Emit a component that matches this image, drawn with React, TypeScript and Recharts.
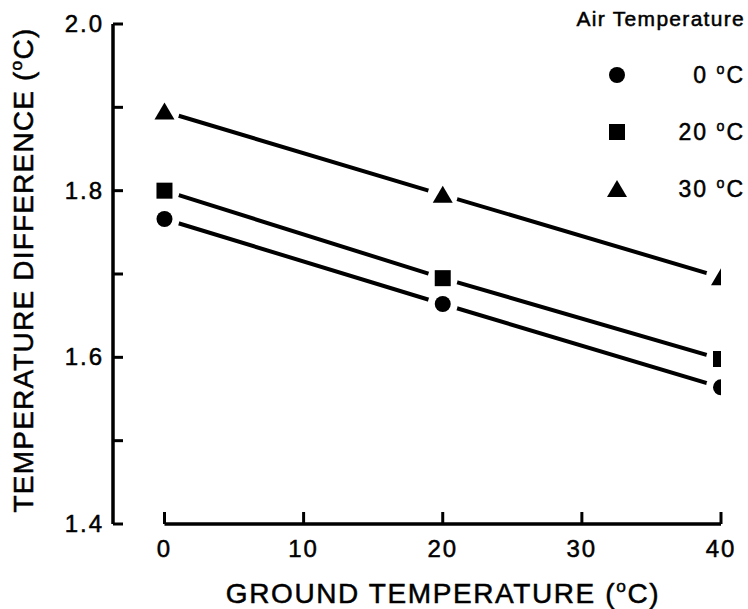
import React from "react";
import { LineChart, Line, XAxis, YAxis, ReferenceLine } from "recharts";

// ground temperature (°C) and the measured temperature difference for each air temperature
const groundTemps = [0, 20, 40];
const diffAir0 = [1.766, 1.664, 1.564];
const diffAir20 = [1.8, 1.695, 1.598];
const diffAir30 = [1.895, 1.795, 1.696];

const xTicks = [0, 10, 20, 30, 40];
const yTicks = [1.4, 1.5, 1.6, 1.7, 1.8, 1.9, 2.0];
const yLabelled = [1.4, 1.6, 1.8, 2.0];
const airLabels = ["0", "20", "30"];
const airKeys = ["air0", "air20", "air30"];
const markerKinds = ["circle", "square", "triangle"];

const rows = groundTemps.map((g, i) => ({
  ground: g,
  air0: diffAir0[i],
  air20: diffAir20[i],
  air30: diffAir30[i],
}));

const FONT = "'Liberation Sans', Arial, Helvetica, sans-serif";
const INK = "#000";
// a hairline outline gives the type a slightly heavier, printed look
const TEXT_WEIGHT = { stroke: INK, strokeWidth: 0.5 };

const Marker = ({ kind, cx, cy, halo }: { kind: string; cx: number; cy: number; halo?: boolean }) => (
  <g>
    {halo && <circle cx={cx} cy={cy} r={15} fill="#fff" />}
    {kind === "circle" && <circle cx={cx} cy={cy} r={8} fill={INK} />}
    {kind === "square" && <rect x={cx - 8} y={cy - 8} width={16} height={16} fill={INK} />}
    {kind === "triangle" && (
      <path d={`M${cx},${cy - 9} L${cx + 10},${cy + 8} L${cx - 10},${cy + 8} Z`} fill={INK} />
    )}
  </g>
);

const YTick = (props: any) => {
  const { x, y, payload } = props;
  const v = payload.value;
  const labelled = yLabelled.some((t) => Math.abs(t - v) < 1e-6);
  return (
    <g>
      <line x1={x} x2={x + 10} y1={y} y2={y} stroke={INK} strokeWidth={3} />
      {labelled && (
        <text
          x={x - 9}
          y={y + 8}
          textAnchor="end"
          fontFamily={FONT}
          fontSize={24}
          letterSpacing={2}
          fill={INK}
          {...TEXT_WEIGHT}
        >
          {v.toFixed(1)}
        </text>
      )}
    </g>
  );
};

const XTick = (props: any) => {
  const { x, y, payload } = props;
  return (
    <g>
      <line x1={x} x2={x} y1={y} y2={y - 12} stroke={INK} strokeWidth={3} />
      <text
        x={x}
        y={y + 33}
        textAnchor="middle"
        fontFamily={FONT}
        fontSize={24}
        letterSpacing={2}
        fill={INK}
        {...TEXT_WEIGHT}
      >
        {payload.value}
      </text>
    </g>
  );
};

const Degree = ({ size }: { size: number }) => (
  <tspan fontSize={size * 0.62} dy={-size * 0.38}>o</tspan>
);

const XTitle = () => (
  <text
    x={443}
    y={603}
    textAnchor="middle"
    fontFamily={FONT}
    fontSize={28}
    letterSpacing={1.6}
    fill={INK}
    {...TEXT_WEIGHT}
  >
    GROUND TEMPERATURE (<Degree size={28} /><tspan dy={28 * 0.38}>C)</tspan>
  </text>
);

const YTitle = () => (
  <text
    x={0}
    y={0}
    transform="translate(33,270) rotate(-90)"
    textAnchor="middle"
    fontFamily={FONT}
    fontSize={28}
    letterSpacing={1.2}
    fill={INK}
    {...TEXT_WEIGHT}
  >
    TEMPERATURE DIFFERENCE (<Degree size={28} /><tspan dy={28 * 0.38}>C)</tspan>
  </text>
);

// key for the three air temperatures, top right
const AirLegend = () => (
  <svg
    width={200}
    height={210}
    style={{ position: "absolute", left: 548, top: 0, overflow: "visible" }}
  >
    <text
      x={197}
      y={26}
      textAnchor="end"
      fontFamily={FONT}
      fontSize={21}
      letterSpacing={1.3}
      fill={INK}
      {...TEXT_WEIGHT}
    >
      Air Temperature
    </text>
    {airLabels.map((lab, i) => {
      const cy = 75 + i * 57;
      return (
        <g key={lab}>
          <Marker kind={markerKinds[i]} cx={69} cy={cy} />
          <text
            x={197}
            y={cy + 8}
            textAnchor="end"
            fontFamily={FONT}
            fontSize={23}
            letterSpacing={2}
            fill={INK}
            {...TEXT_WEIGHT}
          >
            {lab}  <Degree size={23} />
            <tspan dy={23 * 0.38}>C</tspan>
          </text>
        </g>
      );
    })}
  </svg>
);

export default function App() {
  return (
    <div style={{ position: "absolute", left: 0, top: 0, width: 748, height: 609, background: "#fff" }}>
      <LineChart width={748} height={609} data={rows} margin={{ top: 24, right: 27, bottom: 0, left: 0 }}>
        <XAxis
          dataKey="ground"
          type="number"
          domain={[-3.7, 40]}
          ticks={xTicks}
          allowDataOverflow
          axisLine={false}
          tickLine={false}
          tickSize={0}
          tickMargin={0}
          height={85}
          tick={<XTick />}
          label={<XTitle />}
        />
        <YAxis
          type="number"
          domain={[1.4, 2.0]}
          ticks={yTicks}
          width={113}
          axisLine={{ stroke: INK, strokeWidth: 3.5 }}
          tickLine={false}
          tickSize={0}
          tickMargin={0}
          tick={<YTick />}
          label={<YTitle />}
        />
        <ReferenceLine
          segment={[
            { x: 0, y: 1.4 },
            { x: 40, y: 1.4 },
          ]}
          stroke={INK}
          strokeWidth={3.5}
        />
        {airKeys.map((k, i) => (
          <Line
            key={k}
            dataKey={k}
            type="linear"
            stroke={INK}
            strokeWidth={4}
            isAnimationActive={false}
            dot={(p: any) => <Marker key={`${k}-${p.index}`} kind={markerKinds[i]} cx={p.cx} cy={p.cy} halo />}
            activeDot={false}
          />
        ))}
      </LineChart>
      <AirLegend />
    </div>
  );
}
